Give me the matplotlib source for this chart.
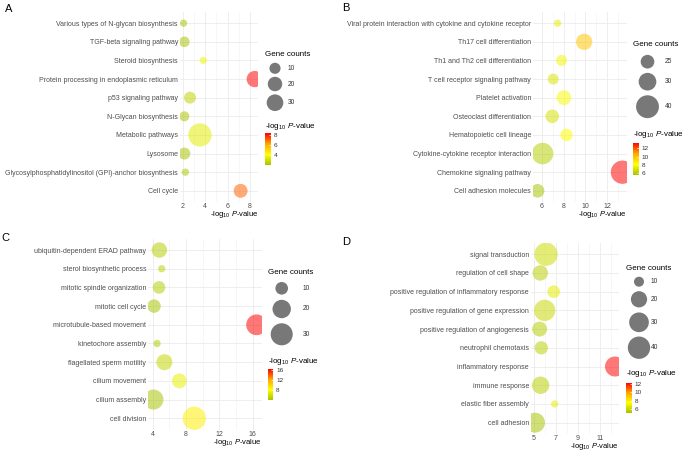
import numpy as np
import matplotlib
matplotlib.use('Agg')
import matplotlib.pyplot as plt
from matplotlib.colors import LinearSegmentedColormap, Normalize
from matplotlib.cm import ScalarMappable

plt.rcParams['font.family'] = ['Liberation Sans', 'DejaVu Sans']
plt.rcParams['mathtext.fontset'] = 'custom'
plt.rcParams['mathtext.rm'] = 'Liberation Sans'
plt.rcParams['mathtext.it'] = 'Liberation Sans:italic'

# ---- panel A: KEGG ----
a_terms = ['Various types of N-glycan biosynthesis', 'TGF-beta signaling pathway',
           'Steroid biosynthesis', 'Protein processing in endoplasmic reticulum',
           'p53 signaling pathway', 'N-Glycan biosynthesis', 'Metabolic pathways',
           'Lysosome', 'Glycosylphosphatidylinositol (GPI)-anchor biosynthesis', 'Cell cycle']
a_logp = [2.08, 2.15, 3.84, 8.43, 2.65, 2.15, 3.54, 2.15, 2.24, 7.17]
a_counts = [6, 9, 6, 28, 12, 8, 76, 12, 6, 18]

# ---- panel B ----
b_terms = ['Viral protein interaction with cytokine and cytokine receptor',
           'Th17 cell differentiation', 'Th1 and Th2 cell differentiation',
           'T cell receptor signaling pathway', 'Platelet activation',
           'Osteoclast differentiation', 'Hematopoietic cell lineage',
           'Cytokine-cytokine receptor interaction', 'Chemokine signaling pathway',
           'Cell adhesion molecules']
b_logp = [7.44, 9.88, 7.8, 7.04, 8.02, 6.95, 8.26, 6.06, 13.4, 5.6]
b_counts = [22, 28, 23, 23, 26, 25, 24, 37, 41, 25]

# ---- panel C: GO ----
c_terms = ['ubiquitin-dependent ERAD pathway', 'sterol biosynthetic process',
           'mitotic spindle organization', 'mitotic cell cycle', 'microtubule-based movement',
           'kinetochore assembly', 'flagellated sperm motility', 'cilium movement',
           'cilium assembly', 'cell division']
c_logp = [4.8, 5.08, 4.76, 4.16, 16.48, 4.52, 5.4, 7.2, 4.09, 9.0]
c_counts = [14, 7, 10, 11, 26, 7, 15, 13, 24, 34]

# ---- panel D ----
d_terms = ['signal transduction', 'regulation of cell shape',
           'positive regulation of inflammatory response',
           'positive regulation of gene expression', 'positive regulation of angiogenesis',
           'neutrophil chemotaxis', 'inflammatory response', 'immune response',
           'elastic fiber assembly', 'cell adhesion']
d_logp = [6.1, 5.58, 6.8, 5.98, 5.52, 5.67, 12.37, 5.61, 6.89, 5.1]
d_counts = [44, 18, 13, 36, 17, 14, 31, 23, 9, 31]

W, H = 685, 451
fig = plt.figure(figsize=(6.85, 4.51), dpi=100)
ov = fig.add_axes([0, 0, 1, 1])
ov.set_xlim(0, W)
ov.set_ylim(H, 0)
ov.axis('off')

cmap = LinearSegmentedColormap.from_list('gyor', ['#a8c300', '#ffff00', '#ffa500', '#ff0000'])
XLAB = r'-log$_{10}$ $\mathit{P}$-value'
ALPHA = 0.53


def px_axes(x0, y0, x1, y1):
    return fig.add_axes([x0 / W, 1 - y1 / H, (x1 - x0) / W, (y1 - y0) / H])


def diam(c, cmin, cmax):
    # ggplot-like area scale, diameter in pixels
    return 7.3 + 16 * np.sqrt((np.asarray(c, float) - cmin) / (cmax - cmin))


def panel(terms, logp, counts, box, ticks, minor):
    ax = px_axes(*box)
    n = len(terms)
    y = np.arange(n)[::-1]
    cmin, cmax = min(counts), max(counts)
    norm = Normalize(min(logp), max(logp))
    ax.scatter(logp, y, s=(diam(counts, cmin, cmax) * 0.72) ** 2, c=logp, cmap=cmap,
               norm=norm, alpha=ALPHA, linewidths=0, zorder=3)
    r = max(logp) - min(logp)
    ax.set_xlim(min(logp) - 0.05 * r, max(logp) + 0.05 * r)
    ax.set_ylim(-0.6, n - 0.4)
    ax.set_yticks(y, terms)
    ax.set_xticks(ticks)
    ax.set_xticks(minor, minor=True)
    ax.grid(True, which='major', color='#ebebeb', lw=0.6)
    ax.grid(True, which='minor', axis='x', color='#f2f2f2', lw=0.4)
    ax.set_axisbelow(True)
    for sp in ax.spines.values():
        sp.set_visible(False)
    ax.tick_params(which='both', length=0, labelsize=5.0, labelcolor='#4d4d4d', pad=1.5)
    ax.tick_params(axis='x', pad=1)
    ax.set_xlabel(XLAB, loc='right', fontsize=5.5, labelpad=-1)
    return norm, cmin, cmax


def legend(norm, cmin, cmax, breaks, tx, ty, cx, cys, lx, cb_ty, cb_box, cb_ticks):
    ov.text(tx, ty, 'Gene counts', fontsize=5.8, va='center', ha='left')
    d = diam(breaks, cmin, cmax)
    ov.scatter([cx] * len(breaks), cys, s=(d * 0.72) ** 2, color='black', alpha=ALPHA,
               linewidths=0, clip_on=False)
    for b, yy in zip(breaks, cys):
        ov.text(lx, yy, str(b), fontsize=4.8, va='center', ha='left', color='#333333')
    ov.text(tx, cb_ty, XLAB, fontsize=5.8, va='center', ha='left')
    cax = px_axes(*cb_box)
    cb = fig.colorbar(ScalarMappable(norm, cmap), cax=cax, ticks=cb_ticks)
    cb.outline.set_visible(False)
    cax.tick_params(length=1.5, width=0.5, color='white', direction='in',
                    labelsize=4.6, labelcolor='#333333', pad=2)


na = panel(a_terms, a_logp, a_counts, (180, 12, 258.3, 202), [2, 4, 6, 8], [3, 5, 7])
legend(*na, [10, 20, 30], 265, 54, 275, [68.3, 84, 102.7], 288, 126,
       (265, 133, 271, 165), [4, 6, 8])

nb = panel(b_terms, b_logp, b_counts, (533.3, 12, 626.7, 202), [6, 8, 10, 12], [7, 9, 11, 13])
legend(*nb, [25, 30, 40], 633, 45, 647.5, [61.7, 81.7, 106.7], 665, 134,
       (633, 142.7, 639, 175), [6, 8, 10, 12])

nc = panel(c_terms, c_logp, c_counts, (148.3, 238.8, 261.7, 429.5), [4, 8, 12, 16], [6, 10, 14])
legend(*nc, [10, 20, 30], 268, 272.7, 281.7, [288.3, 309, 334.3], 303, 361.7,
       (267.7, 369, 273.3, 400), [8, 12, 16])

nd = panel(d_terms, d_logp, d_counts, (531, 243, 619, 433.9), [5, 7, 9, 11], [6, 8, 10, 12])
legend(*nd, [10, 20, 30, 40], 626, 268.3, 639, [281.7, 299.3, 322.3, 347.7], 651, 373.3,
       (626, 382.7, 631.5, 412.7), [6, 8, 10, 12])

for letter, x, y in [('A', 9, 8.5), ('B', 345.5, 8), ('C', 5, 238), ('D', 346.5, 242)]:
    ov.text(x, y, letter, fontsize=8, ha='center', va='center')

fig.savefig('out.png', dpi=100)
